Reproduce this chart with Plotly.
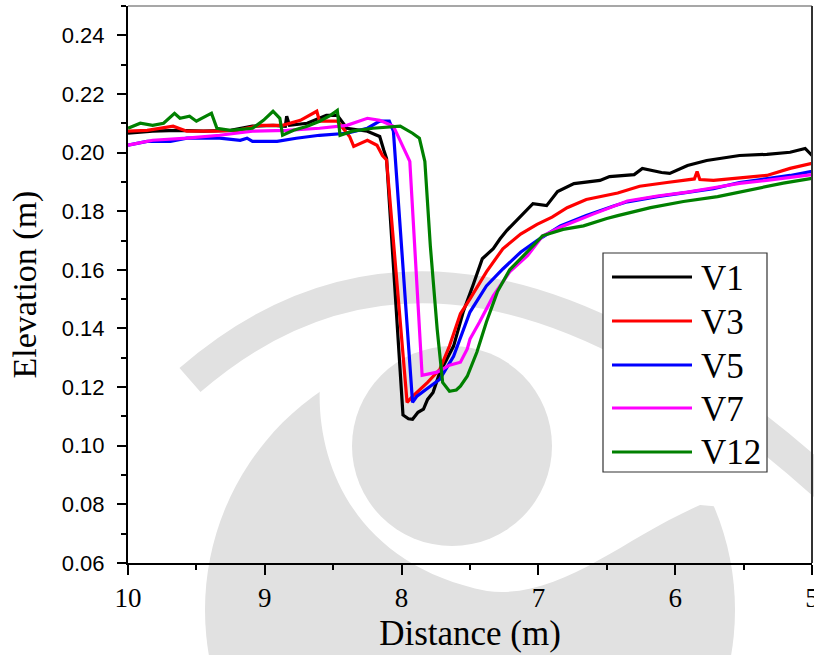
import plotly.graph_objects as go

# Bed elevation profiles
dist_v1 = [10.00, 9.82, 9.64, 9.45, 9.25, 9.09, 8.94, 8.85, 8.84, 8.82, 8.69, 8.55, 8.47, 8.40,
           8.25, 8.16, 8.13, 8.11, 7.99, 7.95, 7.92, 7.88, 7.84, 7.81, 7.77, 7.72, 7.62, 7.55,
           7.48, 7.41, 7.33, 7.28, 7.23, 7.13, 7.04, 6.94, 6.86, 6.74, 6.55, 6.48, 6.30, 6.24,
           6.10, 6.04, 5.91, 5.77, 5.53, 5.33, 5.16, 5.05, 5.00]
elev_v1 = [0.2066, 0.2073, 0.2076, 0.2073, 0.2076, 0.2090, 0.2093, 0.2090, 0.2124, 0.2093,
           0.2100, 0.2127, 0.2127, 0.2083, 0.2073, 0.2055, 0.2008, 0.1980, 0.1105, 0.1092,
           0.1090, 0.1114, 0.1125, 0.1158, 0.1182, 0.1251, 0.1340, 0.1456, 0.1545, 0.1638,
           0.1672, 0.1706, 0.1735, 0.1785, 0.1826, 0.1819, 0.1867, 0.1894, 0.1905, 0.1918,
           0.1925, 0.1946, 0.1932, 0.1929, 0.1956, 0.1973, 0.1990, 0.1994, 0.2001, 0.2014, 0.1990]

dist_v3 = [10.00, 9.86, 9.67, 9.57, 9.38, 9.20, 9.04, 8.87, 8.74, 8.62, 8.60, 8.47, 8.38, 8.35,
           8.25, 8.18, 8.14, 8.11, 7.96, 7.92, 7.81, 7.72, 7.65, 7.57, 7.50, 7.38, 7.26, 7.13,
           7.01, 6.90, 6.79, 6.65, 6.42, 6.26, 6.06, 5.91, 5.86, 5.84, 5.82, 5.72, 5.53, 5.33,
           5.16, 5.00]
elev_v3 = [0.2073, 0.2076, 0.2090, 0.2073, 0.2073, 0.2076, 0.2093, 0.2093, 0.2110, 0.2141,
           0.2107, 0.2107, 0.2055, 0.2021, 0.2042, 0.2025, 0.1990, 0.1975, 0.1148, 0.1168,
           0.1216, 0.1261, 0.1340, 0.1450, 0.1501, 0.1593, 0.1672, 0.1722, 0.1755, 0.1780,
           0.1812, 0.1840, 0.1862, 0.1885, 0.1898, 0.1905, 0.1910, 0.1935, 0.1908, 0.1905,
           0.1912, 0.1922, 0.1946, 0.1963]

dist_v5 = [10.00, 9.86, 9.69, 9.57, 9.33, 9.18, 9.13, 9.09, 8.91, 8.77, 8.60, 8.40, 8.25, 8.16,
           8.09, 8.06, 7.92, 7.89, 7.79, 7.72, 7.62, 7.50, 7.38, 7.26, 7.13, 7.01, 6.84, 6.65,
           6.45, 6.35, 6.13, 5.91, 5.72, 5.53, 5.33, 5.16, 5.00]
elev_v5 = [0.2025, 0.2038, 0.2038, 0.2049, 0.2049, 0.2042, 0.2049, 0.2038, 0.2038, 0.2049,
           0.2059, 0.2066, 0.2083, 0.2107, 0.2107, 0.2073, 0.1148, 0.1168, 0.1203, 0.1227,
           0.1305, 0.1456, 0.1545, 0.1603, 0.1660, 0.1700, 0.1750, 0.1785, 0.1818, 0.1832,
           0.1850, 0.1865, 0.1877, 0.1898, 0.1910, 0.1922, 0.1936]

dist_v7 = [10.00, 9.82, 9.57, 9.33, 9.09, 8.84, 8.60, 8.40, 8.25, 8.16, 8.06, 8.01, 7.94, 7.85,
           7.74, 7.65, 7.57, 7.52, 7.50, 7.43, 7.33, 7.21, 7.08, 6.97, 6.84, 6.60, 6.35, 6.13,
           5.91, 5.72, 5.53, 5.33, 5.16, 5.00]
elev_v7 = [0.2025, 0.2042, 0.2049, 0.2059, 0.2073, 0.2076, 0.2083, 0.2093, 0.2117, 0.2110,
           0.2090, 0.2038, 0.1970, 0.1240, 0.1251, 0.1275, 0.1285, 0.1330, 0.1364, 0.1422,
           0.1511, 0.1593, 0.1648, 0.1715, 0.1745, 0.1790, 0.1835, 0.1852, 0.1865, 0.1880,
           0.1895, 0.1905, 0.1915, 0.1925]

dist_v12 = [10.00, 9.91, 9.82, 9.74, 9.66, 9.62, 9.55, 9.50, 9.42, 9.39, 9.35, 9.25, 9.09, 9.01,
            8.94, 8.89, 8.87, 8.79, 8.69, 8.60, 8.52, 8.47, 8.45, 8.36, 8.21, 8.06, 8.01, 7.92,
            7.87, 7.83, 7.79, 7.74, 7.70, 7.65, 7.60, 7.57, 7.52, 7.45, 7.38, 7.30, 7.21, 7.08,
            6.97, 6.82, 6.67, 6.50, 6.42, 6.18, 5.94, 5.69, 5.45, 5.21, 5.00]
elev_v12 = [0.2083, 0.2100, 0.2093, 0.2100, 0.2134, 0.2117, 0.2124, 0.2107, 0.2127, 0.2134,
            0.2083, 0.2076, 0.2083, 0.2110, 0.2141, 0.2117, 0.2059, 0.2076, 0.2090, 0.2107,
            0.2127, 0.2144, 0.2059, 0.2073, 0.2083, 0.2090, 0.2090, 0.2066, 0.2049, 0.1970,
            0.1682, 0.1398, 0.1216, 0.1186, 0.1190, 0.1203, 0.1237, 0.1319, 0.1422, 0.1525,
            0.1600, 0.1662, 0.1716, 0.1738, 0.1750, 0.1775, 0.1785, 0.1812, 0.1833, 0.1850,
            0.1874, 0.1896, 0.1912]

series_names = ["V1", "V3", "V5", "V7", "V12"]
series_dist = [dist_v1, dist_v3, dist_v5, dist_v7, dist_v12]
series_elev = [elev_v1, elev_v3, elev_v5, elev_v7, elev_v12]
series_colors = ["#000000", "#FF0000", "#0000FF", "#FF00FF", "#008000"]

x_ticks = [10, 9, 8, 7, 6, 5]

# pixel frame of the plot area (814x655 page)
PL, PR, PT, PB = 128, 812, 6, 563
WM = "#e1e1e1"  # watermark grey
SERIF = "Liberation Serif"
SANS = "Liberation Sans"


def px(xp):
    return (xp - PL) / (PR - PL)


def py(yp):
    return (PB - yp) / (PB - PT)


def circle(cx, cy, r, color):
    return dict(type="circle", xref="paper", yref="paper", layer="below",
                x0=px(cx - r), x1=px(cx + r), y0=py(cy + r), y1=py(cy - r),
                fillcolor=color, line=dict(width=0))


def path(points_cmd, **kw):
    return dict(type="path", xref="paper", yref="paper", path=points_cmd, **kw)


def p(xp, yp):
    return f"{px(xp):.4f},{py(yp):.4f}"


fig = go.Figure()
for name, xs, ys, col in zip(series_names, series_dist, series_elev, series_colors):
    fig.add_trace(go.Scatter(x=xs, y=ys, mode="lines", name=name,
                             line=dict(color=col, width=3.2), showlegend=False))

shapes = []
# faint eye-logo watermark behind the plot
shapes.append(circle(470, 610, 265, WM))
white_eye = ("M " + p(330, 330) + " C " + p(300, 420) + " " + p(330, 560) + " " + p(487, 591)
             + " C " + p(560, 600) + " " + p(620, 540) + " " + p(700, 505)
             + " L " + p(814, 515) + " L " + p(814, 400) + " L " + p(600, 300)
             + " L " + p(400, 290) + " Z")
shapes.append(path(white_eye, layer="below", fillcolor="white", line=dict(width=0)))
band = "M " + p(190, 380) + " Q " + p(455, 150) + " " + p(830, 490)
shapes.append(path(band, layer="below", line=dict(color=WM, width=32)))
shapes.append(circle(452, 446, 100, WM))

# frame: thin grey top, dark right
shapes.append(dict(type="line", xref="paper", yref="paper", x0=0, x1=1, y0=1, y1=1,
                   line=dict(color="#8a8a8a", width=1.5)))
shapes.append(dict(type="line", xref="paper", yref="paper", x0=1, x1=1, y0=0, y1=1,
                   line=dict(color="#333333", width=2)))

# legend box drawn by hand (long line samples like the original)
shapes.append(dict(type="rect", xref="paper", yref="paper", layer="above",
                   x0=px(603), x1=px(767), y0=py(472), y1=py(253),
                   fillcolor="white", line=dict(color="#333333", width=1.2)))
legend_rows = [277, 321, 365, 408, 452]
annotations = []
for name, col, ry in zip(series_names, series_colors, legend_rows):
    shapes.append(dict(type="line", xref="paper", yref="paper", layer="above",
                       x0=px(612), x1=px(692), y0=py(ry), y1=py(ry),
                       line=dict(color=col, width=3)))
    annotations.append(dict(xref="paper", yref="paper", x=px(699), y=py(ry + 1),
                            xanchor="left", yanchor="middle", text=name, showarrow=False,
                            font=dict(family=SERIF, size=35, color="black")))

fig.update_layout(
    width=814, height=655,
    margin=dict(l=PL, r=814 - PR, t=PT, b=655 - PB),
    paper_bgcolor="white",
    plot_bgcolor="rgba(0,0,0,0)",
    shapes=shapes,
    annotations=annotations,
    showlegend=False,
)

fig.update_xaxes(
    range=[10, 5], tickvals=x_ticks, ticks="outside", ticklen=10, tickwidth=2,
    tickcolor="black", showline=True, linewidth=2, linecolor="black",
    showgrid=False, zeroline=False, ticklabeloverflow="allow", automargin=False,
    tickfont=dict(family=SERIF, size=27, color="black"),
    minor=dict(ticks="outside", ticklen=5, tickwidth=2, tickcolor="black", dtick=0.5,
               tick0=5, showgrid=False),
    title=dict(text="Distance (m)", font=dict(family=SERIF, size=35, color="black"),
               standoff=8),
)
fig.update_yaxes(
    range=[0.06, 0.25], tick0=0.06, dtick=0.02, tickformat=".2f",
    ticks="outside", ticklen=9, tickwidth=2, tickcolor="black",
    showline=True, linewidth=2, linecolor="black", automargin=False,
    showgrid=False, zeroline=False, ticklabelstandoff=8,
    tickfont=dict(family=SANS, size=22, color="black"),
    minor=dict(ticks="outside", ticklen=5, tickwidth=2, tickcolor="black", dtick=0.01,
               tick0=0.06, showgrid=False),
    title=dict(text="Elevation (m)", font=dict(family=SERIF, size=34, color="black"),
               standoff=15),
)

# drop the browser's default 8px body margin so the figure sits at the page corner
fig.write_html("out.html", config={"displayModeBar": False},
               post_script="document.body.style.margin='0';document.body.style.overflow='hidden';")
